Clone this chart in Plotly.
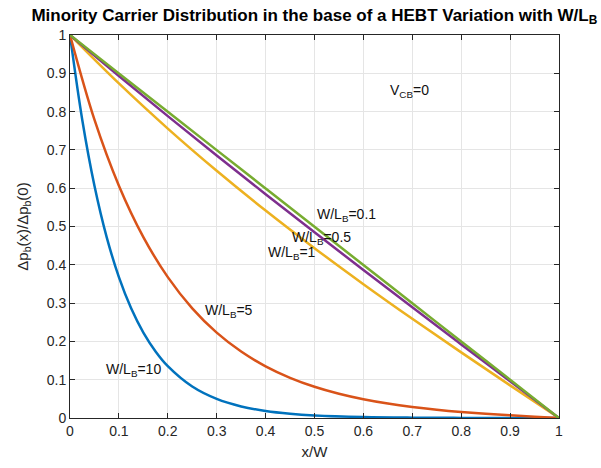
import plotly.graph_objects as go

# curve values, one list per W/L_B
x_lin = [0, 0.1, 0.2, 0.3, 0.4, 0.5, 0.6, 0.7, 0.8, 0.9, 1.0]
y_01 = [1, 0.8997, 0.7995, 0.6994, 0.5994, 0.4994, 0.3995, 0.2996, 0.1997, 0.0999, 0]
y_05 = [1, 0.893, 0.7882, 0.6855, 0.5844, 0.4848, 0.3864, 0.2889, 0.1922, 0.096, 0]
y_1 = [1, 0.8735, 0.7557, 0.6455, 0.5417, 0.4434, 0.3495, 0.2591, 0.1713, 0.0852, 0]

x_5 = [0, 0.05, 0.1, 0.15, 0.2, 0.25, 0.3, 0.35, 0.4, 0.45, 0.5,
       0.55, 0.6, 0.65, 0.7, 0.75, 0.8, 0.85, 0.9, 0.95, 1.0]
y_5 = [1, 0.7788, 0.6065, 0.4723, 0.3678, 0.2864, 0.2229, 0.1735, 0.135, 0.105, 0.0815,
       0.0632, 0.0489, 0.0376, 0.0287, 0.0216, 0.0158, 0.0111, 0.007, 0.0034, 0]

x_10 = [0, 0.025, 0.05, 0.075, 0.1, 0.125, 0.15, 0.175, 0.2, 0.25, 0.3,
        0.35, 0.4, 0.45, 0.5, 0.6, 0.7, 0.8, 0.9, 1.0]
y_10 = [1, 0.7788, 0.6065, 0.4724, 0.3679, 0.2865, 0.2231, 0.1738, 0.1353, 0.0821, 0.0498,
        0.0302, 0.0183, 0.0111, 0.0067, 0.0025, 0.0009, 0.0003, 0.0001, 0]

series = [
    (x_10, y_10, '#0072BD'),
    (x_5, y_5, '#D95319'),
    (x_lin, y_1, '#EDB120'),
    (x_lin, y_05, '#7E2F8E'),
    (x_lin, y_01, '#77AC30'),
]

labels = [
    (0.5, 0.53, 'W/L<sub>B</sub>=0.1'),
    (0.45, 0.47, 'W/L<sub>B</sub>=0.5'),
    (0.40, 0.43, 'W/L<sub>B</sub>=1'),
    (0.272, 0.28, 'W/L<sub>B</sub>=5'),
    (0.07, 0.125, 'W/L<sub>B</sub>=10'),
    (0.65, 0.855, 'V<sub>CB</sub>=0'),
]

fig = go.Figure()
for xs, ys, c in series:
    fig.add_trace(go.Scatter(x=xs, y=ys, mode='lines', line=dict(color=c, width=2.5, shape='spline'),
                             showlegend=False))

for lx, ly, t in labels:
    fig.add_annotation(x=lx, y=ly, text=t, showarrow=False, xanchor='left', yanchor='middle',
                       font=dict(size=14, color='#111111'))

axis_style = dict(showline=True, linecolor='#262626', linewidth=1, mirror='allticks',
                  ticks='inside', ticklen=5, tickcolor='#262626', showgrid=True,
                  gridcolor='#E5E5E5', zeroline=False, automargin=False,
                  tickfont=dict(size=14, color='#262626'))

fig.update_layout(
    width=601, height=468,
    margin=dict(l=70, r=42, t=35, b=50),
    paper_bgcolor='white', plot_bgcolor='white',
    font=dict(family='Liberation Sans, Arial, sans-serif', color='#262626'),
    title=dict(text='<b>Minority Carrier Distribution in the base of a HEBT Variation with W/L<sub>B</sub></b>',
               x=0.523, xanchor='center', y=0.968, yanchor='middle', font=dict(size=17, color='black'),
               automargin=False),
    xaxis=dict(range=[0, 1], dtick=0.1, title=dict(text='x/W', font=dict(size=15), standoff=8), **axis_style),
    yaxis=dict(range=[0, 1], dtick=0.1, title=dict(text='Δp<sub>b</sub>(x)/Δp<sub>b</sub>(0)', font=dict(size=15),
                                                  standoff=14), **axis_style),
)

# page body has a default 8px margin, drop it so the figure sits at the corner
fig.write_html("out.html", config={'displayModeBar': False},
               post_script="document.body.style.margin='0';")
